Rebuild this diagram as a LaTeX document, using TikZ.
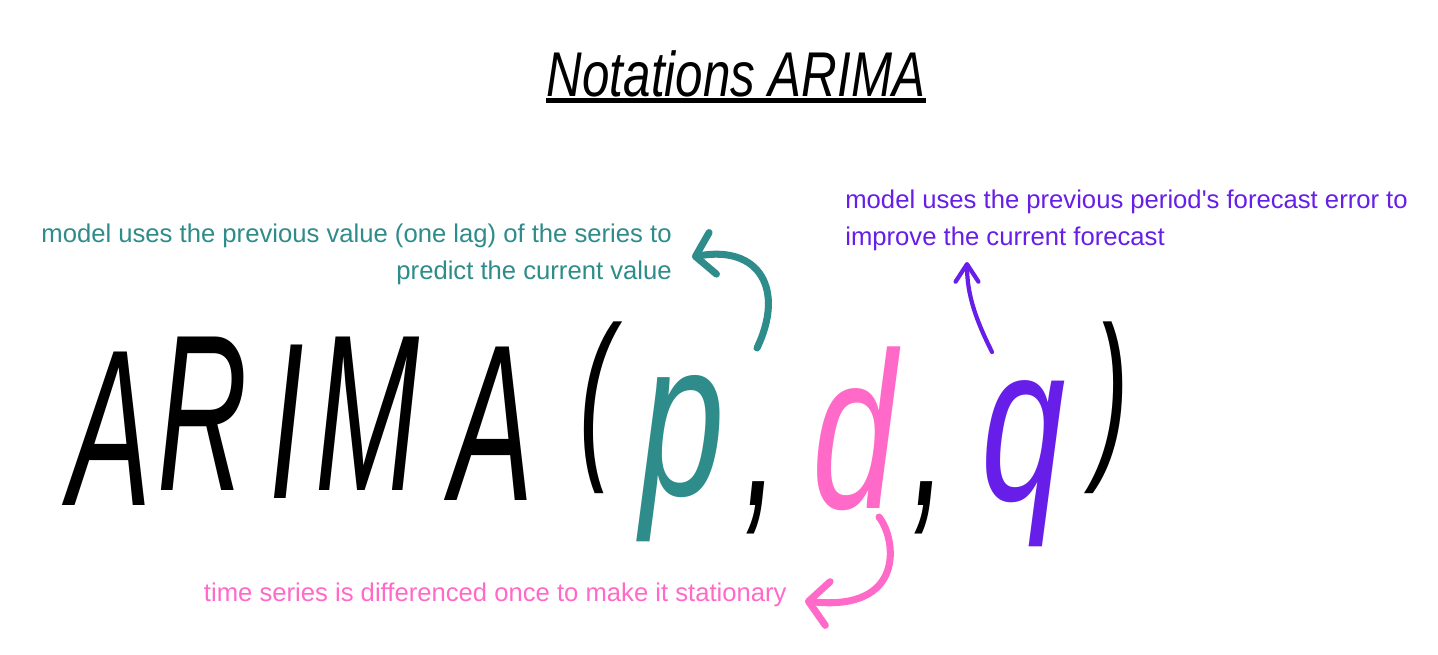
\documentclass[tikz,border=0pt]{standalone}
\usepackage{fontspec}
\usepackage{graphicx}
\setmainfont{Liberation Sans}
\usetikzlibrary{arrows.meta}

\definecolor{arTeal}{RGB}{46,140,138}
\definecolor{arPink}{RGB}{255,105,200}
\definecolor{arPurple}{RGB}{102,30,232}

\newcommand{\narrow}[1]{\scalebox{0.56}[1]{#1}}
\newcommand{\wider}[1]{\scalebox{0.68}[1]{#1}}

\tikzset{
  glyph/.style={anchor=base, inner sep=0pt, font=\fontsize{127}{130}\selectfont\itshape},
  paren/.style={anchor=base, inner sep=0pt, font=\fontsize{105}{110}\selectfont\itshape},
  note/.style={inner sep=0pt, font=\fontsize{14.6}{21}\selectfont},
  curl/.style={line cap=round, line join=round},
}

\begin{document}
\begin{tikzpicture}[x=0.02cm, y=-0.02cm]
  \fill[white] (0,0) rectangle (1438,654);
  \useasboundingbox (0,0) rectangle (1438,654);

  % title
  \node[anchor=base, inner sep=0pt, font=\fontsize{36}{40}\selectfont\itshape] (title) at (736,96) {\scalebox{0.78}[1]{Notations ARIMA}};
  \draw[line width=2.6pt] ([yshift=-2.5pt]title.base west) -- ([yshift=-2.5pt]title.base east);

  % ARIMA(p,d,q)
  \node[glyph] (gA) at (110,505) {\narrow{A}};
  \node[glyph] (gR) at (203,490) {\narrow{R}};
  \node[glyph] (gI) at (287,498) {\narrow{I}};
  \node[glyph] (gM) at (368,490) {\narrow{M}};
  \node[glyph] (gAb) at (492,500) {\narrow{A}};
  \node[paren] (gOpen) at (597,455) {\narrow{(}};
  \node[glyph, text=arTeal] (gP) at (683,495) {\wider{p}};
  \node[glyph] (gComA) at (762,505) {\narrow{,}};
  \node[glyph, text=arPink] (gD) at (855,508) {\wider{d}};
  \node[glyph] (gComB) at (930,505) {\narrow{,}};
  \node[glyph, text=arPurple] (gQ) at (1024,500) {\wider{q}};
  \node[paren] (gClose) at (1112,455) {\narrow{)}};

  % notes
  \node[note, text=arTeal, align=right, anchor=east] (arNote) at (672,254)
    {model uses the previous value (one lag) of the series to\\predict the current value};
  \node[note, text=arPurple, align=left, anchor=west] (maNote) at (845,220)
    {model uses the previous period\textquotesingle s forecast error to\\improve the current forecast};
  \node[note, text=arPink, anchor=east] (iNote) at (787,595)
    {time series is differenced once to make it stationary};

  % arrows
  \coordinate (arTail) at (757,348);
  \coordinate (arTip) at (692,257);
  \coordinate (maTail) at (992,352);
  \coordinate (maTip) at (967,262);
  \coordinate (iTail) at (879,517);
  \coordinate (iTip) at (805,601);
  \draw[curl, arTeal, line width=4pt, -{Straight Barb[round, length=10pt, width=24pt]}]
    (arTail) .. controls (785,290) and (760,245) .. (arTip);
  \draw[curl, arPurple, line width=2.4pt, -{Straight Barb[round, length=10pt, width=13pt]}]
    (maTail) .. controls (976,320) and (967,295) .. (maTip);
  \draw[curl, arPink, line width=4pt, -{Straight Barb[round, length=11pt, width=25pt]}]
    (iTail) .. controls (897,540) and (905,612) .. (iTip);
\end{tikzpicture}
\end{document}
